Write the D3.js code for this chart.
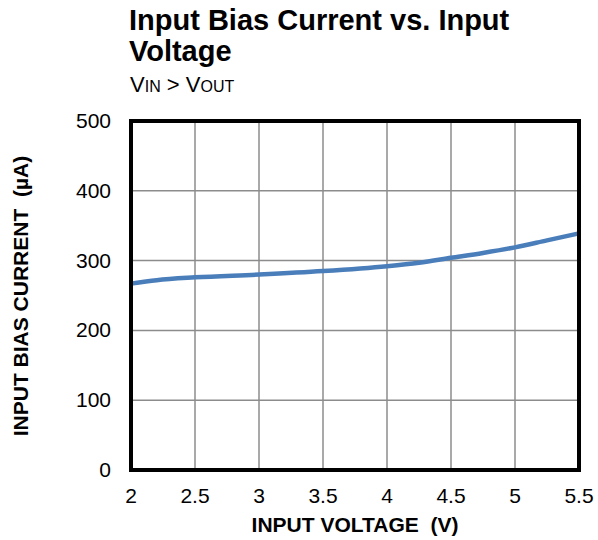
<!DOCTYPE html>
<meta charset="utf-8">
<style>
  body { margin: 0; background: #fff; }
  text { font-family: "Liberation Sans", Arial, sans-serif; fill: #000; }
  .grid line { stroke: #8c8c8c; stroke-width: 1.5; }
  .tick-label { font-size: 21px; }
  .axis-title { font-size: 21px; font-weight: bold; white-space: pre; }
</style>
<body>
<script src="https://cdn.jsdelivr.net/npm/d3@7"></script>
<script>
// input voltage (V) vs input bias current (uA)
const voltage = [2.0, 2.2, 2.5, 3.0, 3.5, 4.0, 4.25, 4.5, 4.75, 5.0, 5.25, 5.5];
const biasCurrent = [267, 272, 276, 280, 285, 292, 297, 304, 311, 319, 329, 339];
const xTicks = [2, 2.5, 3, 3.5, 4, 4.5, 5, 5.5];
const yTicks = [0, 100, 200, 300, 400, 500];

const W = 598, H = 540;
const plot = {left: 131, right: 579, top: 121, bottom: 470};

const svg = d3.select('body').append('svg')
  .attr('width', W)
  .attr('height', H);

const x = d3.scaleLinear().domain([2, 5.5]).range([plot.left, plot.right]);
const y = d3.scaleLinear().domain([0, 500]).range([plot.bottom, plot.top]);

// grid
const grid = svg.append('g').attr('class', 'grid');
grid.selectAll('.vx')
  .data(xTicks.slice(1, -1))
  .enter().append('line')
  .attr('x1', d => x(d)).attr('x2', d => x(d))
  .attr('y1', plot.top).attr('y2', plot.bottom);
grid.selectAll('.hy')
  .data(yTicks.slice(1, -1))
  .enter().append('line')
  .attr('x1', plot.left).attr('x2', plot.right)
  .attr('y1', d => y(d)).attr('y2', d => y(d));

// curve
const line = d3.line()
  .x((d, i) => x(voltage[i]))
  .y(d => y(d))
  .curve(d3.curveMonotoneX);

svg.append('path')
  .datum(biasCurrent)
  .attr('d', line)
  .attr('fill', 'none')
  .attr('stroke', '#4a7ebb')
  .attr('stroke-width', 4.5);

// frame
svg.append('rect')
  .attr('x', plot.left).attr('y', plot.top)
  .attr('width', plot.right - plot.left)
  .attr('height', plot.bottom - plot.top)
  .attr('fill', 'none')
  .attr('stroke', '#000')
  .attr('stroke-width', 4);

// tick labels
svg.append('g').selectAll('text')
  .data(xTicks)
  .enter().append('text')
  .attr('class', 'tick-label')
  .attr('x', d => x(d))
  .attr('y', 503)
  .attr('text-anchor', 'middle')
  .text(d => d);

svg.append('g').selectAll('text')
  .data(yTicks)
  .enter().append('text')
  .attr('class', 'tick-label')
  .attr('x', 111)
  .attr('y', d => y(d) + 7)
  .attr('text-anchor', 'end')
  .text(d => d);

// axis titles
svg.append('text')
  .attr('class', 'axis-title')
  .attr('x', 355)
  .attr('y', 532)
  .attr('text-anchor', 'middle')
  .text('INPUT VOLTAGE  (V)');

svg.append('text')
  .attr('class', 'axis-title')
  .attr('transform', 'translate(28,296) rotate(-90)')
  .attr('text-anchor', 'middle')
  .text('INPUT BIAS CURRENT  (\u00b5A)');

// title
const title = svg.append('text')
  .attr('x', 129)
  .attr('y', 30)
  .style('font-size', '29px')
  .style('font-weight', 'bold');
title.append('tspan').attr('x', 129).text('Input Bias Current vs. Input');
title.append('tspan').attr('x', 129).attr('dy', 31).text('Voltage');

const sub = svg.append('text')
  .attr('x', 130)
  .attr('y', 92)
  .style('font-size', '22px');
sub.append('tspan').text('V');
sub.append('tspan').style('font-size', '16px').text('IN');
sub.append('tspan').text(' > V');
sub.append('tspan').style('font-size', '16px').text('OUT');
</script>
</body>
